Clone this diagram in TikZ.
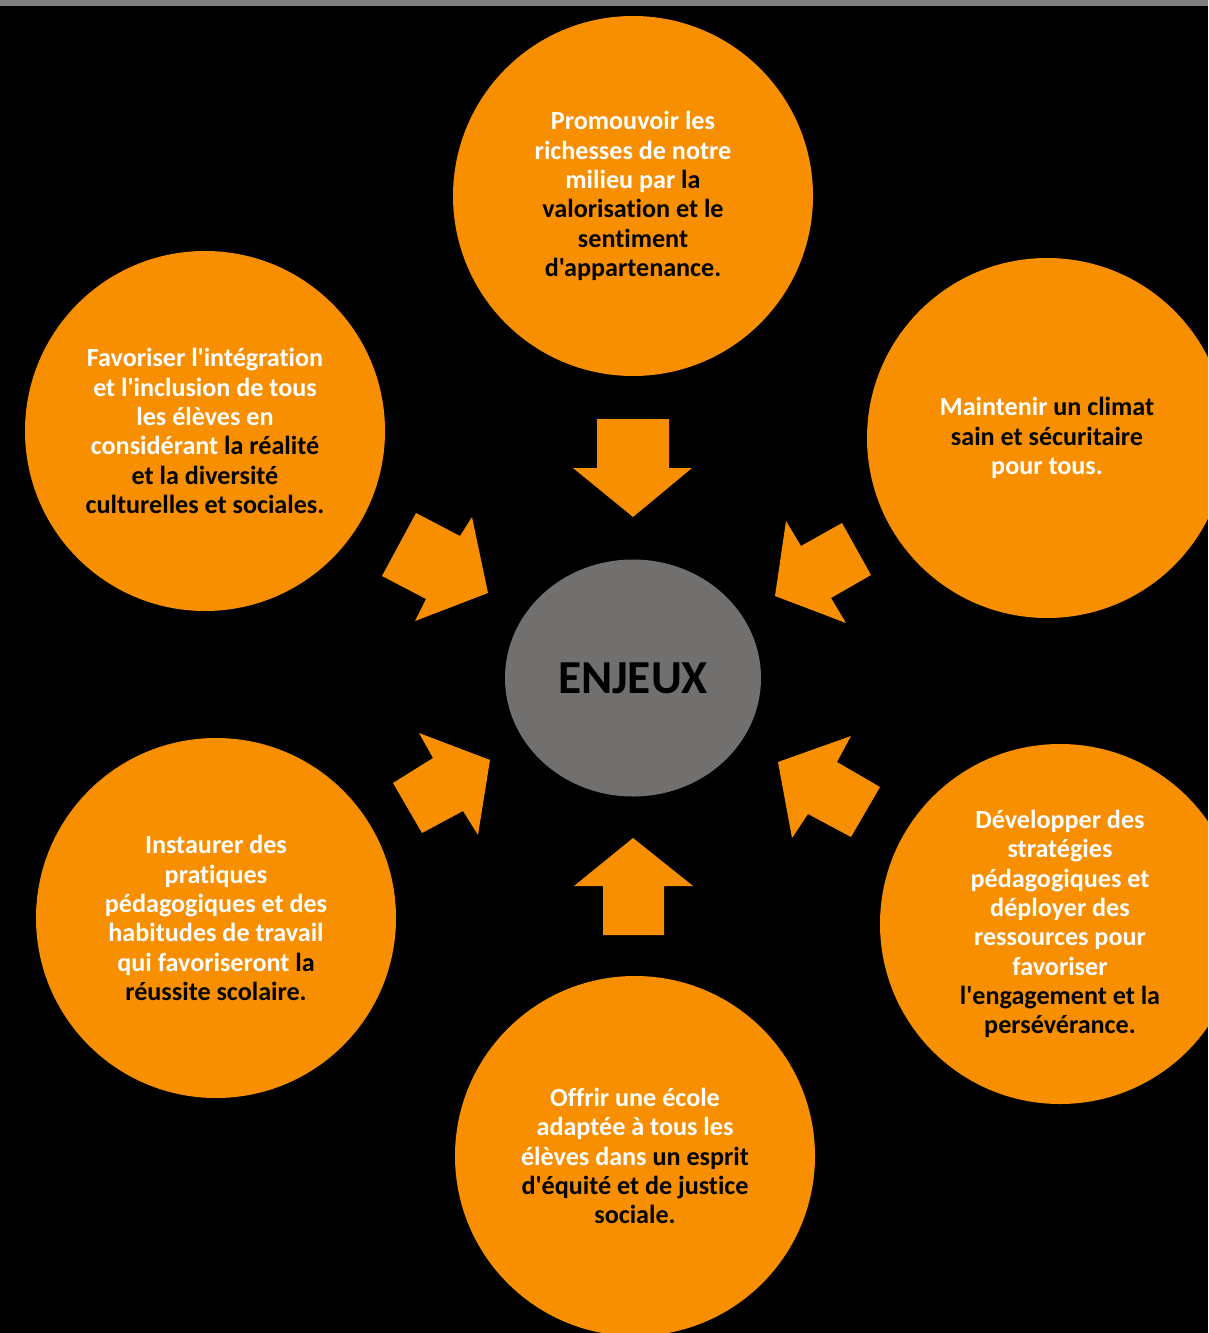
\documentclass[tikz,border=0pt]{standalone}
\usepackage{fontspec}
\setmainfont{Carlito}[Ligatures={TeXOff,NoCommon}]
\usepackage{tikz}
\usetikzlibrary{shapes.geometric}
\definecolor{orangeenjeu}{HTML}{F88F00}
\definecolor{grisenjeu}{HTML}{72706E}
\definecolor{bande}{HTML}{808080}
\tikzstyle{bubble} = [circle, fill=orangeenjeu, minimum size=270pt, inner sep=0pt, align=center, text=white, font=\bfseries\fontsize{19.6}{22}\selectfont]
\tikzstyle{centre} = [ellipse, fill=grisenjeu, minimum width=192pt, minimum height=177.75pt, inner sep=0pt, text=black, font=\bfseries\fontsize{35.5}{42}\selectfont]
\tikzstyle{bloc} = [fill=orangeenjeu]
\newcommand{\noir}[1]{\textcolor{black}{#1}}

\begin{document}
\begin{tikzpicture}[x=0.75pt,y=-0.75pt]
	\useasboundingbox (0,0) rectangle (1208,1333);
	\clip (0,0) rectangle (1208,1333);
	\fill[black] (0,0) rectangle (1208,1333);
	\fill[bande] (0,0) rectangle (1208,6);
	\node[centre] (enjeux) at (633,678) {ENJEUX};
	\node[bubble] (promouvoir) at (633,196) {Promouvoir les\\richesses de notre\\milieu par \noir{la}\\\noir{valorisation et le}\\\noir{sentiment}\\\noir{d'appartenance.}};
	\node[bubble] (climat) at (1047,438) {Maintenir \noir{un climat}\\\noir{sain et sécuritaire}\\pour tous.};
	\node[bubble] (integration) at (205,431) {Favoriser l'intégration\\et l'inclusion de tous\\les élèves en\\considérant \noir{la réalité}\\\noir{et la diversité}\\\noir{culturelles et sociales.}};
	\node[bubble] (pratiques) at (216,918) {Instaurer des\\pratiques\\pédagogiques et des\\habitudes de travail\\qui favoriseront \noir{la}\\\noir{réussite scolaire.}};
	\node[bubble] (ecole) at (635,1156) {Offrir une école\\adaptée à tous les\\élèves dans \noir{un esprit}\\\noir{d'équité et de justice}\\\noir{sociale.}};
	\node[bubble] (strategies) at (1060,924) {Développer des\\stratégies\\pédagogiques et\\déployer des\\ressources pour\\favoriser\\\noir{l'engagement et la}\\\noir{persévérance.}};
	\fill[bloc] (597,419) -- (669,419) -- (669,468) -- (692,468) -- (633,517) -- (573,468) -- (597,468) -- cycle;
	\fill[bloc] (603,935) -- (664,935) -- (664,886) -- (693,886) -- (633,838) -- (574,886) -- (603,886) -- cycle;
	\fill[bloc] (416,513) -- (460,536) -- (472,517) -- (488,593) -- (415,621) -- (426,599) -- (382,576) -- cycle;
	\fill[bloc] (419,733) -- (490,760) -- (478,835) -- (463,811) -- (422,833) -- (393,783) -- (433,758) -- cycle;
	\fill[bloc] (786,521) -- (801,546) -- (842,523) -- (871,575) -- (831,598) -- (846,623) -- (775,596) -- cycle;
	\fill[bloc] (778,762) -- (851,736) -- (837,762) -- (880,787) -- (851,837) -- (808,814) -- (792,838) -- cycle;
\end{tikzpicture}
\end{document}
